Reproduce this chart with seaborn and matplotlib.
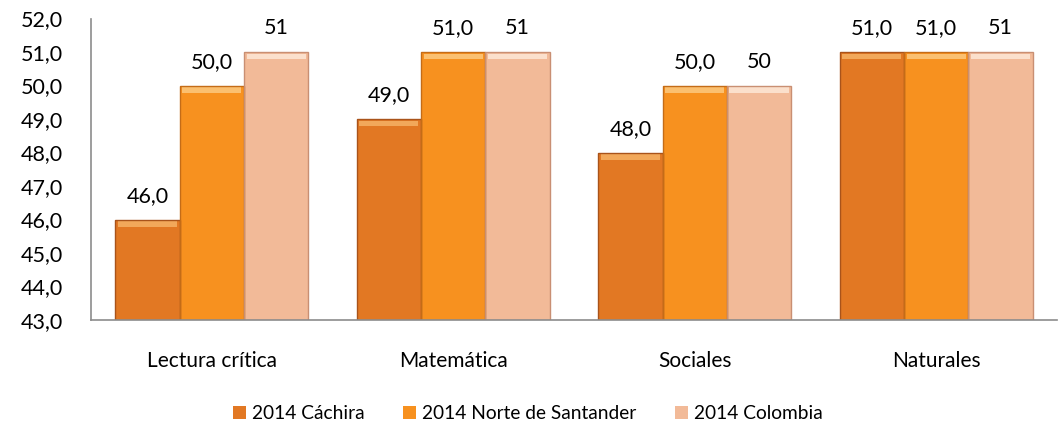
import pandas as pd
import numpy as np
import matplotlib
matplotlib.use('Agg')
import matplotlib.pyplot as plt
import seaborn as sns
from matplotlib.patches import Rectangle

categories = ['Lectura crítica', 'Matemática', 'Sociales', 'Naturales']
series = ['2014 Cáchira', '2014 Norte de Santander', '2014 Colombia']
cachira = [46.0, 49.0, 48.0, 51.0]
norte = [50.0, 51.0, 50.0, 51.0]
colombia = [51, 51, 50, 51]
yticks = [43, 44, 45, 46, 47, 48, 49, 50, 51, 52]

colors = ['#E27823', '#F7911F', '#F2BA98']
edge_colors = ['#A9531A', '#C46C17', '#C98F73']
top_colors = ['#F2A85A', '#FBC070', '#FBE0CC']

df = pd.DataFrame({
    'categoria': categories * 3,
    'serie': [s for s in series for _ in categories],
    'valor': cachira + norte + colombia,
})

sns.set_theme(style='white')
plt.rcParams['font.family'] = ['Lato', 'DejaVu Sans']
plt.rcParams['text.color'] = 'black'
plt.rcParams['xtick.color'] = 'black'
plt.rcParams['ytick.color'] = 'black'

fig, ax = plt.subplots(figsize=(10.59, 4.42), dpi=100)
fig.subplots_adjust(left=0.086, right=0.998, top=0.958, bottom=0.276)

sns.barplot(data=df, x='categoria', y='valor', hue='serie', order=categories,
            hue_order=series, palette=colors, width=0.8, saturation=1,
            ax=ax, edgecolor='none', linewidth=0)

ax.set_ylim(43, 52)
ax.set_yticks(yticks)
ax.set_yticklabels([f'{t:.1f}'.replace('.', ',') for t in yticks], fontsize=15.5)
ax.set_xlabel('')
ax.set_ylabel('')
ax.tick_params(axis='y', length=0, pad=20)
ax.tick_params(axis='x', length=0, pad=22, labelsize=15)
for side in ['top', 'right']:
    ax.spines[side].set_visible(False)
for side in ['left', 'bottom']:
    ax.spines[side].set_color('#8c8c8c')
    ax.spines[side].set_linewidth(1.2)

# bevel-like look: darker outline and lighter top band
for i, cont in enumerate(ax.containers):
    for p in cont.patches:
        x, y0, w, h = p.get_x(), p.get_y(), p.get_width(), p.get_height()
        top = y0 + h
        band = 0.22
        ax.add_patch(Rectangle((x + w * 0.04, top - band), w * 0.92, band * 0.8,
                               facecolor=top_colors[i], edgecolor='none', zorder=p.get_zorder() + 0.1))
        ax.add_patch(Rectangle((x, y0), w, h, facecolor='none', edgecolor=edge_colors[i],
                               linewidth=1.0, zorder=p.get_zorder() + 0.2))
    if i < 2:
        labels = [f'{v:.1f}'.replace('.', ',') for v in cont.datavalues]
    else:
        labels = [f'{v:.0f}' for v in cont.datavalues]
    ax.bar_label(cont, labels=labels, padding=10, fontsize=15.5)

handles, lbls = ax.get_legend_handles_labels()
ax.legend(handles, lbls, loc='upper center', bbox_to_anchor=(0.452, -0.225), ncol=3,
          frameon=False, fontsize=13.8, handlelength=0.7, handleheight=0.7,
          handletextpad=0.3, columnspacing=2.0)

plt.savefig('out.png', dpi=100)
